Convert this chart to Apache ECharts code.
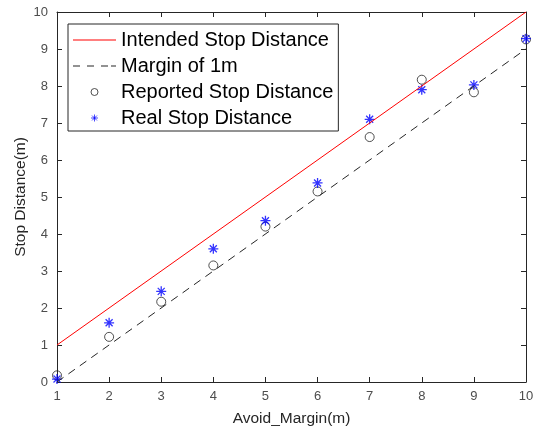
<!DOCTYPE html>
<html>
<head>
<meta charset="utf-8">
<script src="https://cdn.jsdelivr.net/npm/echarts@6/dist/echarts.min.js"></script>
<style>
  html, body { margin: 0; padding: 0; background: #fff; }
  #chart { width: 539px; height: 432px; }
</style>
</head>
<body>
<div id="chart"></div>
<script>
  // data
  var avoidMargin = [1, 2, 3, 4, 5, 6, 7, 8, 9, 10];
  var reportedStop = [0.18, 1.22, 2.17, 3.15, 4.2, 5.15, 6.62, 8.17, 7.83, 9.26];
  var realStop = [0.08, 1.6, 2.45, 3.6, 4.36, 5.38, 7.1, 7.9, 8.03, 9.28];
  var intendedLine = [[1, 1], [10, 10]];
  var marginLine = [[1, 0], [10, 9]];

  var chart = echarts.init(document.getElementById('chart'));

  var font = 'Liberation Sans, Arial';
  var axisCommon = {
    type: 'value',
    interval: 1,
    axisLine: { show: true, onZero: false, lineStyle: { color: '#262626', width: 1 } },
    axisTick: { show: true, inside: true, length: 5, lineStyle: { color: '#262626' } },
    splitLine: { show: false },
    axisLabel: { color: '#4d4d4d', fontSize: 13, fontFamily: font }
  };

  var star = 'path://M5 0L5 10M0 5L10 5M1.5 1.5L8.5 8.5M8.5 1.5L1.5 8.5';
  // legend samples for the two lines (43 x 1)
  var solidIcon = 'path://M0 0H43V1H0Z';
  var dashIcon = 'path://M0 0h7v1h-7zM14 0h7v1h-7zM28 0h7v1h-7zM38 0h5v1h-5z';

  var option = {
    animation: false,
    backgroundColor: '#fff',
    grid: { left: 57, right: 13, top: 12, bottom: 49 },
    xAxis: [
      Object.assign({}, axisCommon, {
        min: 1, max: 10, position: 'bottom',
        name: 'Avoid_Margin(m)', nameLocation: 'middle', nameGap: 29, nameMoveOverlap: false,
        nameTextStyle: { color: '#262626', fontSize: 15.5, fontFamily: font },
        axisLabel: Object.assign({}, axisCommon.axisLabel, { margin: 8 })
      }),
      Object.assign({}, axisCommon, {
        min: 1, max: 10, position: 'top', axisLabel: { show: false }
      })
    ],
    yAxis: [
      Object.assign({}, axisCommon, {
        min: 0, max: 10, position: 'left',
        name: 'Stop Distance(m)', nameLocation: 'middle', nameGap: 28, nameMoveOverlap: false,
        nameTextStyle: { color: '#262626', fontSize: 15.5, fontFamily: font },
        axisLabel: Object.assign({}, axisCommon.axisLabel, { margin: 9 })
      }),
      Object.assign({}, axisCommon, {
        min: 0, max: 10, position: 'right', axisLabel: { show: false }
      })
    ],
    legend: {
      left: 68, top: 24, orient: 'vertical',
      itemWidth: 43, itemHeight: 7, itemGap: 0,
      padding: [3, 5, 0, 5],
      backgroundColor: '#fff',
      borderColor: '#262626', borderWidth: 1, borderRadius: 0,
      textStyle: { color: '#000', fontSize: 20, lineHeight: 26, fontFamily: font },
      data: [
        { name: 'Intended Stop Distance', icon: solidIcon, itemStyle: { color: '#ff0000', borderWidth: 0 } },
        { name: 'Margin of 1m', icon: dashIcon, itemStyle: { color: '#262626', borderWidth: 0 } },
        { name: 'Reported Stop Distance', itemStyle: { borderWidth: 1 } },
        { name: 'Real Stop Distance', itemStyle: { borderWidth: 0.9 } }
      ]
    },
    series: [
      {
        name: 'Intended Stop Distance', type: 'line', data: intendedLine,
        symbol: 'none', lineStyle: { color: '#ff0000', width: 1 }, itemStyle: { color: '#ff0000' }
      },
      {
        name: 'Margin of 1m', type: 'line', data: marginLine,
        symbol: 'none', lineStyle: { color: '#262626', width: 1, type: [8, 6] }, itemStyle: { color: '#262626' }
      },
      {
        name: 'Reported Stop Distance', type: 'scatter',
        data: avoidMargin.map(function (x, i) { return [x, reportedStop[i]]; }),
        symbol: 'circle', symbolSize: 9,
        itemStyle: { color: 'rgba(0,0,0,0)', borderColor: '#262626', borderWidth: 1 }
      },
      {
        name: 'Real Stop Distance', type: 'scatter',
        data: avoidMargin.map(function (x, i) { return [x, realStop[i]]; }),
        symbol: star, symbolSize: 10,
        itemStyle: { color: 'rgba(0,0,0,0)', borderColor: '#0000ff', borderWidth: 1.3 }
      }
    ]
  };

  chart.setOption(option);
</script>
</body>
</html>
